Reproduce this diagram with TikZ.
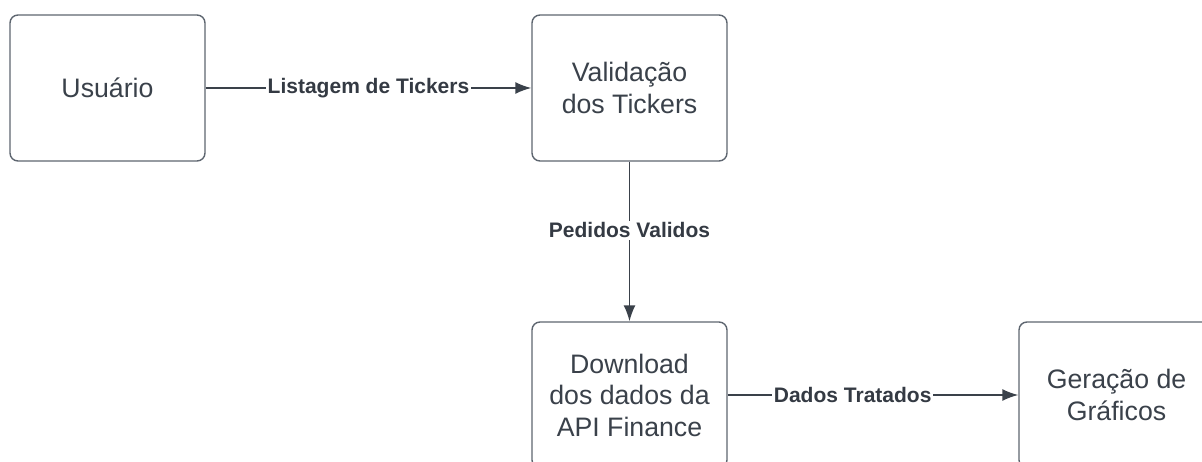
\documentclass[tikz,border=0pt]{standalone}
\usepackage{fontspec}
\setmainfont{Liberation Sans}
\usepackage{xcolor}
\usetikzlibrary{positioning,arrows.meta}
\definecolor{ink}{HTML}{3A414A}
\definecolor{rim}{HTML}{5E6670}
\tikzset{
  box/.style={draw=rim, line width=1.4pt, rounded corners=8pt, align=center, text=ink,
    font=\fontsize{26.7}{31.5}\selectfont, minimum width=195pt, minimum height=146pt, inner sep=0pt, fill=white},
  flow/.style={-{Latex[length=16pt, width=12pt]}, draw=ink, line width=1.6pt},
  lbl/.style={font=\fontsize{21}{24}\selectfont\bfseries, text=ink!90!black, fill=white, inner sep=1.5pt},
}
\begin{document}
\begin{tikzpicture}[x=1pt, y=-1pt]
  \useasboundingbox (0,0) rectangle (1202,462);
  \clip (0,0) rectangle (1202,462);
  \node[box] (user) at (107.5,88) {Usuário};
  \node[box] (valid) at (629.5,88) {Validação\\dos Tickers};
  \node[box] (down) at (629.5,395) {Download\\dos dados da\\API Finance};
  \node[box] (graf) at (1116.5,395) {Geração de\\Gráficos};
  \draw[flow] (user) -- node[lbl]{Listagem de Tickers} (valid);
  \draw[flow] (valid) -- node[lbl, pos=0.43]{Pedidos Validos} (down);
  \draw[flow] (down) -- node[lbl, pos=0.43]{Dados Tratados} (graf);
\end{tikzpicture}
\end{document}
